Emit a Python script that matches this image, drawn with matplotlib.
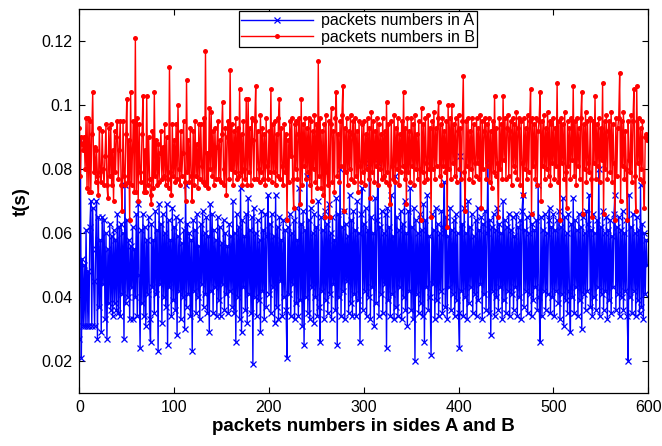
import numpy as np
import matplotlib
matplotlib.use("Agg")
import matplotlib.pyplot as plt

# 数据：A、B 两侧每个包的时间 t(s)，按图读数（每行 20 个包）
times_a = [
    0.027, 0.089, 0.021, 0.052, 0.031, 0.050, 0.031, 0.061, 0.031, 0.048, 0.031, 0.062, 0.070, 0.031, 0.068, 0.045, 0.031, 0.055, 0.070, 0.027,
    0.065, 0.037, 0.058, 0.029, 0.065, 0.044, 0.064, 0.033, 0.060, 0.027, 0.055, 0.038, 0.063, 0.036, 0.059, 0.034, 0.061, 0.038, 0.058, 0.036,
    0.066, 0.035, 0.062, 0.034, 0.063, 0.041, 0.060, 0.027, 0.075, 0.038, 0.064, 0.040, 0.058, 0.033, 0.056, 0.043, 0.062, 0.033, 0.055, 0.040,
    0.066, 0.034, 0.069, 0.047, 0.024, 0.061, 0.038, 0.066, 0.034, 0.062, 0.031, 0.058, 0.041, 0.065, 0.033, 0.026, 0.063, 0.043, 0.058, 0.035,
    0.067, 0.041, 0.061, 0.023, 0.069, 0.044, 0.063, 0.032, 0.066, 0.040, 0.060, 0.037, 0.069, 0.025, 0.064, 0.043, 0.058, 0.034, 0.068, 0.039,
    0.062, 0.036, 0.065, 0.028, 0.059, 0.042, 0.064, 0.033, 0.057, 0.040, 0.061, 0.030, 0.075, 0.037, 0.063, 0.041, 0.060, 0.034, 0.058, 0.023,
    0.064, 0.042, 0.061, 0.035, 0.066, 0.040, 0.056, 0.033, 0.063, 0.044, 0.067, 0.037, 0.060, 0.041, 0.065, 0.035, 0.059, 0.029, 0.069, 0.042,
    0.066, 0.035, 0.061, 0.043, 0.058, 0.034, 0.065, 0.039, 0.062, 0.034, 0.057, 0.044, 0.064, 0.036, 0.060, 0.041, 0.056, 0.035, 0.063, 0.042,
    0.059, 0.037, 0.070, 0.035, 0.060, 0.026, 0.066, 0.040, 0.062, 0.033, 0.074, 0.029, 0.064, 0.043, 0.059, 0.036, 0.066, 0.032, 0.071, 0.041,
    0.061, 0.035, 0.065, 0.019, 0.068, 0.040, 0.060, 0.034, 0.064, 0.039, 0.058, 0.029, 0.067, 0.042, 0.061, 0.033, 0.066, 0.037, 0.059, 0.072,
    0.041, 0.063, 0.035, 0.066, 0.043, 0.059, 0.032, 0.072, 0.037, 0.062, 0.033, 0.065, 0.045, 0.058, 0.034, 0.064, 0.040, 0.061, 0.036, 0.021,
    0.062, 0.041, 0.066, 0.034, 0.060, 0.044, 0.064, 0.033, 0.068, 0.038, 0.058, 0.034, 0.074, 0.039, 0.063, 0.031, 0.067, 0.025, 0.061, 0.040,
    0.078, 0.035, 0.064, 0.033, 0.068, 0.043, 0.060, 0.032, 0.066, 0.040, 0.062, 0.034, 0.070, 0.037, 0.026, 0.065, 0.042, 0.061, 0.033, 0.067,
    0.039, 0.063, 0.035, 0.069, 0.041, 0.060, 0.033, 0.065, 0.044, 0.058, 0.036, 0.071, 0.025, 0.066, 0.040, 0.080, 0.034, 0.062, 0.042, 0.067,
    0.033, 0.063, 0.045, 0.059, 0.035, 0.072, 0.038, 0.064, 0.034, 0.067, 0.041, 0.061, 0.034, 0.070, 0.039, 0.060, 0.026, 0.066, 0.074, 0.036,
    0.063, 0.042, 0.068, 0.034, 0.061, 0.040, 0.082, 0.033, 0.065, 0.043, 0.060, 0.031, 0.071, 0.038, 0.064, 0.082, 0.034, 0.062, 0.041, 0.067,
    0.035, 0.060, 0.044, 0.066, 0.024, 0.068, 0.039, 0.062, 0.034, 0.072, 0.041, 0.059, 0.033, 0.078, 0.037, 0.065, 0.034, 0.061, 0.043, 0.067,
    0.033, 0.063, 0.040, 0.070, 0.036, 0.060, 0.031, 0.067, 0.042, 0.074, 0.036, 0.062, 0.033, 0.068, 0.020, 0.064, 0.041, 0.060, 0.035, 0.066,
    0.038, 0.061, 0.034, 0.069, 0.026, 0.064, 0.043, 0.072, 0.036, 0.059, 0.040, 0.022, 0.066, 0.044, 0.061, 0.033, 0.068, 0.039, 0.063, 0.034,
    0.060, 0.042, 0.067, 0.035, 0.062, 0.076, 0.037, 0.065, 0.033, 0.059, 0.043, 0.068, 0.036, 0.061, 0.041, 0.064, 0.034, 0.066, 0.039, 0.060,
    0.035, 0.024, 0.084, 0.042, 0.063, 0.034, 0.068, 0.040, 0.060, 0.033, 0.070, 0.038, 0.062, 0.043, 0.066, 0.035, 0.059, 0.041, 0.064, 0.034,
    0.068, 0.039, 0.061, 0.044, 0.065, 0.033, 0.063, 0.041, 0.067, 0.036, 0.060, 0.083, 0.035, 0.064, 0.028, 0.062, 0.042, 0.066, 0.034, 0.061,
    0.040, 0.068, 0.036, 0.063, 0.043, 0.060, 0.033, 0.070, 0.039, 0.064, 0.035, 0.062, 0.042, 0.066, 0.034, 0.061, 0.041, 0.065, 0.036, 0.059,
    0.043, 0.066, 0.034, 0.062, 0.040, 0.064, 0.033, 0.067, 0.072, 0.037, 0.061, 0.042, 0.065, 0.035, 0.060, 0.041, 0.066, 0.034, 0.063, 0.039,
    0.061, 0.043, 0.064, 0.036, 0.075, 0.040, 0.026, 0.065, 0.034, 0.061, 0.042, 0.066, 0.036, 0.060, 0.041, 0.064, 0.068, 0.035, 0.062, 0.040,
    0.066, 0.034, 0.061, 0.042, 0.064, 0.038, 0.067, 0.033, 0.062, 0.041, 0.071, 0.031, 0.065, 0.039, 0.060, 0.035, 0.066, 0.042, 0.029, 0.063,
    0.040, 0.071, 0.035, 0.064, 0.043, 0.061, 0.034, 0.066, 0.039, 0.062, 0.030, 0.065, 0.041, 0.060, 0.036, 0.067, 0.042, 0.063, 0.072, 0.037,
    0.061, 0.034, 0.066, 0.040, 0.060, 0.036, 0.064, 0.043, 0.080, 0.034, 0.062, 0.041, 0.067, 0.036, 0.060, 0.042, 0.065, 0.033, 0.061, 0.039,
    0.064, 0.035, 0.059, 0.043, 0.066, 0.072, 0.036, 0.062, 0.041, 0.065, 0.034, 0.061, 0.040, 0.067, 0.036, 0.060, 0.042, 0.064, 0.034, 0.020,
    0.072, 0.040, 0.062, 0.035, 0.066, 0.042, 0.060, 0.034, 0.065, 0.039, 0.061, 0.035, 0.075, 0.037, 0.063, 0.033, 0.060, 0.041, 0.058, 0.050,
]

times_b = [
    0.093, 0.078, 0.090, 0.088, 0.086, 0.090, 0.080, 0.096, 0.074, 0.096, 0.073, 0.095, 0.073, 0.091, 0.104, 0.079, 0.087, 0.076, 0.086, 0.078,
    0.072, 0.093, 0.079, 0.076, 0.092, 0.080, 0.075, 0.084, 0.094, 0.075, 0.071, 0.093, 0.078, 0.094, 0.075, 0.086, 0.070, 0.092, 0.079, 0.090,
    0.095, 0.077, 0.086, 0.095, 0.075, 0.067, 0.095, 0.078, 0.075, 0.091, 0.102, 0.076, 0.089, 0.064, 0.104, 0.075, 0.086, 0.095, 0.073, 0.121,
    0.073, 0.096, 0.070, 0.094, 0.079, 0.076, 0.091, 0.103, 0.073, 0.086, 0.073, 0.103, 0.075, 0.090, 0.077, 0.072, 0.069, 0.092, 0.074, 0.104,
    0.078, 0.089, 0.075, 0.088, 0.076, 0.085, 0.092, 0.077, 0.087, 0.078, 0.094, 0.075, 0.090, 0.077, 0.074, 0.112, 0.079, 0.072, 0.094, 0.078,
    0.089, 0.076, 0.094, 0.077, 0.100, 0.080, 0.075, 0.092, 0.078, 0.085, 0.095, 0.076, 0.070, 0.108, 0.079, 0.089, 0.076, 0.093, 0.078, 0.070,
    0.092, 0.075, 0.095, 0.078, 0.088, 0.074, 0.094, 0.077, 0.094, 0.081, 0.076, 0.096, 0.075, 0.117, 0.076, 0.085, 0.074, 0.099, 0.080, 0.098,
    0.078, 0.092, 0.075, 0.093, 0.077, 0.087, 0.095, 0.077, 0.089, 0.076, 0.091, 0.101, 0.080, 0.075, 0.093, 0.072, 0.090, 0.095, 0.077, 0.111,
    0.080, 0.094, 0.075, 0.092, 0.079, 0.096, 0.077, 0.093, 0.078, 0.105, 0.079, 0.091, 0.075, 0.095, 0.080, 0.077, 0.102, 0.075, 0.102, 0.079,
    0.093, 0.075, 0.096, 0.089, 0.077, 0.095, 0.106, 0.077, 0.092, 0.080, 0.076, 0.097, 0.079, 0.093, 0.077, 0.091, 0.075, 0.096, 0.081, 0.077,
    0.092, 0.079, 0.105, 0.076, 0.094, 0.079, 0.095, 0.075, 0.091, 0.078, 0.096, 0.102, 0.077, 0.093, 0.081, 0.075, 0.094, 0.079, 0.091, 0.064,
    0.089, 0.076, 0.095, 0.084, 0.096, 0.077, 0.068, 0.094, 0.080, 0.095, 0.077, 0.091, 0.096, 0.069, 0.102, 0.075, 0.094, 0.081, 0.096, 0.077,
    0.093, 0.079, 0.096, 0.075, 0.095, 0.070, 0.092, 0.080, 0.097, 0.076, 0.094, 0.074, 0.114, 0.078, 0.096, 0.074, 0.092, 0.072, 0.094, 0.065,
    0.097, 0.079, 0.075, 0.095, 0.065, 0.094, 0.099, 0.076, 0.092, 0.073, 0.096, 0.104, 0.078, 0.091, 0.076, 0.095, 0.081, 0.097, 0.106, 0.067,
    0.093, 0.079, 0.096, 0.075, 0.092, 0.080, 0.097, 0.077, 0.091, 0.095, 0.076, 0.096, 0.078, 0.092, 0.073, 0.095, 0.081, 0.076, 0.094, 0.079,
    0.095, 0.075, 0.091, 0.080, 0.096, 0.077, 0.093, 0.071, 0.098, 0.079, 0.095, 0.076, 0.092, 0.081, 0.096, 0.075, 0.094, 0.080, 0.091, 0.077,
    0.096, 0.078, 0.092, 0.076, 0.101, 0.079, 0.094, 0.075, 0.069, 0.095, 0.081, 0.077, 0.097, 0.076, 0.093, 0.080, 0.096, 0.075, 0.091, 0.079,
    0.095, 0.081, 0.104, 0.077, 0.093, 0.069, 0.096, 0.079, 0.092, 0.076, 0.096, 0.081, 0.094, 0.075, 0.097, 0.080, 0.091, 0.077, 0.095, 0.080,
    0.064, 0.099, 0.079, 0.094, 0.076, 0.096, 0.082, 0.077, 0.097, 0.080, 0.093, 0.065, 0.095, 0.080, 0.098, 0.077, 0.093, 0.081, 0.096, 0.101,
    0.078, 0.094, 0.075, 0.096, 0.081, 0.092, 0.079, 0.095, 0.062, 0.100, 0.080, 0.096, 0.077, 0.100, 0.082, 0.094, 0.078, 0.096, 0.076, 0.092,
    0.097, 0.080, 0.093, 0.077, 0.095, 0.109, 0.079, 0.067, 0.095, 0.081, 0.096, 0.077, 0.092, 0.080, 0.096, 0.076, 0.094, 0.082, 0.078, 0.096,
    0.082, 0.093, 0.077, 0.097, 0.068, 0.095, 0.080, 0.092, 0.096, 0.077, 0.094, 0.081, 0.096, 0.076, 0.092, 0.074, 0.095, 0.079, 0.103, 0.078,
    0.093, 0.082, 0.065, 0.096, 0.080, 0.094, 0.077, 0.103, 0.083, 0.096, 0.077, 0.093, 0.097, 0.078, 0.092, 0.095, 0.075, 0.096, 0.081, 0.094,
    0.079, 0.098, 0.077, 0.093, 0.096, 0.075, 0.095, 0.082, 0.072, 0.096, 0.080, 0.093, 0.077, 0.097, 0.079, 0.095, 0.105, 0.066, 0.096, 0.081,
    0.094, 0.077, 0.096, 0.075, 0.092, 0.095, 0.104, 0.070, 0.095, 0.081, 0.097, 0.077, 0.093, 0.080, 0.098, 0.078, 0.095, 0.075, 0.094, 0.082,
    0.096, 0.077, 0.093, 0.081, 0.107, 0.076, 0.095, 0.064, 0.096, 0.082, 0.094, 0.077, 0.098, 0.079, 0.068, 0.095, 0.081, 0.093, 0.077, 0.096,
    0.083, 0.106, 0.078, 0.095, 0.075, 0.096, 0.081, 0.093, 0.077, 0.096, 0.104, 0.066, 0.094, 0.080, 0.098, 0.076, 0.095, 0.082, 0.079, 0.096,
    0.077, 0.065, 0.095, 0.082, 0.103, 0.077, 0.094, 0.081, 0.096, 0.076, 0.093, 0.083, 0.107, 0.066, 0.095, 0.080, 0.097, 0.077, 0.092, 0.095,
    0.079, 0.098, 0.076, 0.094, 0.082, 0.064, 0.096, 0.078, 0.093, 0.096, 0.110, 0.070, 0.095, 0.081, 0.098, 0.077, 0.092, 0.080, 0.064, 0.095,
    0.083, 0.079, 0.097, 0.076, 0.095, 0.105, 0.078, 0.067, 0.106, 0.082, 0.096, 0.077, 0.093, 0.080, 0.095, 0.076, 0.068, 0.090, 0.091, 0.089,
]

label_a = "packets numbers in A"
label_b = "packets numbers in B"
x_ticks = [0, 100, 200, 300, 400, 500, 600]
y_ticks = [0.02, 0.04, 0.06, 0.08, 0.1, 0.12]
y_tick_labels = ["0.02", "0.04", "0.06", "0.08", "0.1", "0.12"]

plt.rcParams["font.family"] = ["Liberation Sans", "DejaVu Sans"]

fig = plt.figure(figsize=(6.62, 4.46), dpi=100)
ax = fig.add_axes([0.120, 0.119, 0.859, 0.860])

idx_a = np.arange(len(times_a))
idx_b = np.arange(len(times_b))
ax.plot(idx_a, times_a, color="#0000ff", lw=1.0, marker="x", ms=4.5, mew=0.9, label=label_a)
ax.plot(idx_b, times_b, color="#ff0000", lw=1.0, marker="o", ms=3.6, mew=0, label=label_b)

ax.set_xlim(0, 600)
ax.set_ylim(0.01, 0.13)
ax.set_xticks(x_ticks)
ax.set_yticks(y_ticks)
ax.set_yticklabels(y_tick_labels)
ax.tick_params(direction="in", top=True, right=True, length=4, width=0.8, labelsize=11.5, pad=5)
for sp in ax.spines.values():
    sp.set_linewidth(0.9)

ax.set_xlabel("packets numbers in sides A and B", fontsize=13.5, fontweight="bold", labelpad=2)
ax.set_ylabel("t(s)", fontsize=13.5, fontweight="bold", labelpad=8)

leg = ax.legend(loc="upper center", bbox_to_anchor=(0.49, 1.0), fontsize=11.5, fancybox=False,
                edgecolor="black", framealpha=1, handlelength=4.5, borderpad=0.15,
                labelspacing=0.1, borderaxespad=0.1, handletextpad=0.5)
leg.get_frame().set_linewidth(0.9)

fig.savefig("out.png", dpi=100)
plt.close(fig)
